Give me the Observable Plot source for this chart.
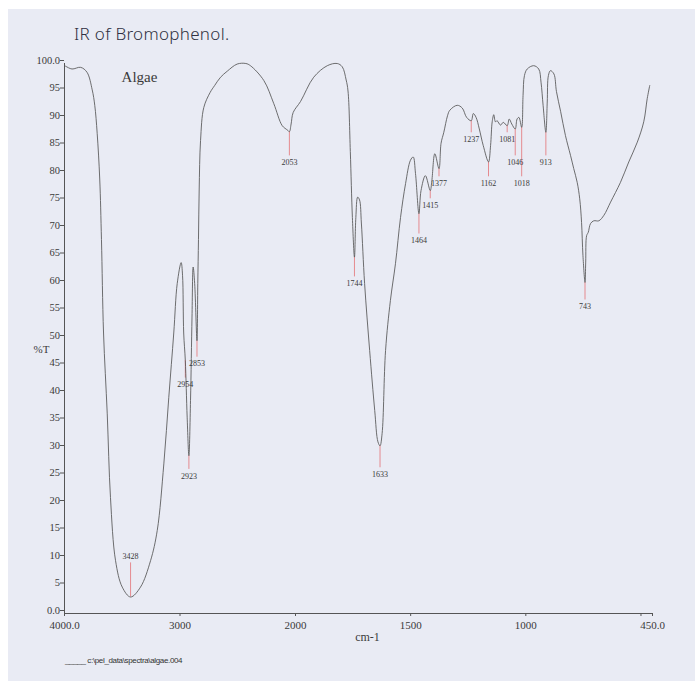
<!DOCTYPE html>
<html>
<head>
<meta charset="utf-8">
<script src="https://cdn.jsdelivr.net/npm/d3@7"></script>
<script src="https://cdn.jsdelivr.net/npm/@observablehq/plot@0.6"></script>
<style>
  html, body { margin: 0; padding: 0; background: #ffffff; }
  #page { position: relative; width: 695px; height: 681px; overflow: hidden; }
  #paper { position: absolute; left: 8px; top: 9px; right: 0; bottom: 0; background: #e9ebf4; }
  #chart { position: absolute; left: 0; top: 0; }
  #title { position: absolute; left: 74px; top: 22px; font-family: "Noto Sans", sans-serif; font-weight: 300; font-size: 17px; color: #2f3142; letter-spacing: 0.3px; }
  #footer { position: absolute; left: 65px; top: 656px; font-family: "Liberation Sans", sans-serif; font-size: 8px; color: #333; letter-spacing: -0.35px; white-space: pre; }
</style>
</head>
<body>
<div id="page">
  <div id="paper"></div>
  <div id="chart"></div>
  <div id="title">IR of Bromophenol.</div>
  <div id="footer">_____ c:\pel_data\spectra\algae.004</div>
</div>
<script>
// Spectrum: wavenumber (cm-1) and %T
const wavenumber = [4000, 3990, 3935, 3860, 3805, 3760, 3738, 3717, 3695, 3680, 3662, 3630, 3602, 3558, 3500, 3428, 3342, 3255, 3197, 3140, 3097, 3054, 3024, 2990, 2978, 2968, 2954, 2938, 2923, 2909, 2896, 2886, 2873, 2853, 2846, 2840, 2834, 2822, 2794, 2740, 2700, 2649, 2591, 2505, 2430, 2390, 2274, 2188, 2115, 2070, 2053, 2038, 2020, 1978, 1921, 1862, 1819, 1797, 1780, 1772, 1762, 1753, 1744, 1738, 1730, 1722, 1714, 1700, 1678, 1656, 1642, 1633, 1624, 1609, 1588, 1566, 1544, 1522, 1501, 1489, 1479, 1464, 1455, 1436, 1415, 1408, 1395, 1377, 1368, 1356, 1340, 1330, 1298, 1276, 1257, 1237, 1228, 1216, 1202, 1185, 1162, 1153, 1146, 1139, 1132, 1125, 1110, 1098, 1081, 1072, 1061, 1046, 1038, 1030, 1018, 1012, 1006, 994, 966, 944, 934, 925, 913, 907, 902, 893, 878, 867, 849, 828, 806, 792, 777, 766, 758, 752, 743, 740, 736, 729, 719, 705, 683, 661, 632, 589, 553, 516, 488, 473, 462];
const transmittance = [99.6, 99.5, 99.0, 99.3, 98.4, 95.2, 92.4, 87.3, 79, 68, 51, 36.3, 21.1, 9.6, 4.8, 3.0, 4.8, 9.6, 15.1, 27.2, 39.3, 51, 60, 63.8, 61.5, 51, 46, 35.7, 28.7, 38.7, 53.9, 63, 60, 49.6, 60, 68, 77, 86, 92, 94.7, 96, 97.5, 98.6, 99.9, 100, 99.6, 96.9, 92.7, 88.7, 87.9, 87.6, 89, 91.1, 93.1, 97.5, 99.6, 100, 99.4, 97, 95, 84, 72, 64.8, 72, 75.7, 75.2, 71, 60, 47.8, 36.9, 31.2, 30.5, 32.7, 47.8, 56.9, 63.6, 72, 78.2, 82.4, 83, 80, 72.7, 76.9, 79.6, 76.9, 78.7, 83.6, 80.9, 85.5, 87.5, 90.5, 91.5, 92.4, 91.9, 90.2, 89.6, 90.9, 90.2, 88.1, 85.1, 82.1, 85.1, 89.4, 90.7, 89.4, 89.6, 88.8, 89.3, 88.7, 89.9, 89, 88.1, 89.9, 90.2, 88.4, 94.2, 97.8, 99.0, 99.6, 99.0, 96.6, 92.4, 87.5, 93, 97.8, 98.7, 98.1, 94.9, 91.3, 86.9, 83.3, 80.9, 78.4, 75.4, 71.1, 65.1, 60.2, 63.9, 68.7, 69.3, 70.9, 71.4, 71.4, 72.4, 74.8, 78.4, 82.1, 85.7, 89.4, 93.6, 96];

// Labelled peaks
const peakWn = [3428, 2954, 2923, 2853, 2053, 1744, 1633, 1464, 1415, 1377, 1237, 1162, 1081, 1046, 1018, 913, 743];
const peakT  = [3.0, 46, 28.7, 49.6, 87.6, 64.8, 30.5, 72.7, 76.9, 80.9, 89.6, 82.1, 88.7, 88.1, 88.4, 87.5, 60.2];
const labelT = [10.4, 41.6, 25, 45.4, 82, 60, 25.3, 67.8, 74.2, 78.2, 86.2, 78.2, 86.2, 82, 78.2, 82, 55.8];

// Axis ticks
const xTicks = [4000, 3000, 2000, 1500, 1000, 500, 450];
const xTickLabels = ["4000.0", "3000", "2000", "1500", "1000", "", "450.0"];
const yTicks = [0, 5, 10, 15, 20, 25, 30, 35, 40, 45, 50, 55, 60, 65, 70, 75, 80, 85, 90, 95, 100];
const yTickLabels = ["0.0", "5", "10", "15", "20", "25", "30", "35", "40", "45", "50", "55", "60", "65", "70", "75", "80", "85", "90", "95", "100.0"];

const spectrum = wavenumber.map((w, i) => ({w, t: transmittance[i]}));
const peaks = peakWn.map((w, i) => ({
  w, t: peakT[i], lt: labelT[i],
  end: labelT[i] < peakT[i] ? labelT[i] + 1.2 : labelT[i] - 1.2
}));

const serif = "'Liberation Serif', 'Times New Roman', serif";
const ink = "#3a3a3a";

const chart = Plot.plot({
  width: 695,
  height: 681,
  marginTop: 63,
  marginBottom: 68,
  marginLeft: 64,
  marginRight: 43,
  style: {background: "transparent", fontFamily: serif, color: ink, overflow: "visible"},
  x: {type: "linear", domain: [4000, 2000, 450], range: [64, 295, 652]},
  y: {type: "linear", domain: [0, 100]},
  marks: [
    Plot.axisY({
      ticks: yTicks,
      tickFormat: d => yTickLabels[yTicks.indexOf(d)],
      tickSize: 4, tickPadding: 0.5, fontSize: 10.5, dy: -3,
      label: null, stroke: "#555"
    }),
    Plot.axisX({
      ticks: xTicks,
      tickFormat: d => xTickLabels[xTicks.indexOf(d)],
      tickSize: 3, tickPadding: 5, fontSize: 11,
      label: null, stroke: "#555"
    }),
    Plot.ruleY([0], {stroke: "#555", strokeWidth: 1}),
    Plot.ruleX([4000], {stroke: "#555", strokeWidth: 1}),
    Plot.ruleX(peaks, {x: "w", y1: "t", y2: "end", stroke: "#e58a8f", strokeWidth: 1}),
    Plot.line(spectrum, {x: "w", y: "t", stroke: "#555555", strokeWidth: 0.85, curve: "catmull-rom"}),
    Plot.text(peaks, {x: "w", y: "lt", text: d => String(d.w), fontSize: 8, fill: ink, fontFamily: serif}),
    Plot.text(["Algae"], {frameAnchor: "top-left", dx: 75, dy: 8, fontSize: 15, fill: ink, fontFamily: serif, textAnchor: "middle"}),
    Plot.text(["%T"], {frameAnchor: "left", dx: -31, dy: 11, fontSize: 11, fill: ink, fontFamily: serif}),
    Plot.text(["cm-1"], {frameAnchor: "bottom", dx: 9, dy: 27, fontSize: 12, fill: ink, fontFamily: serif})
  ]
});
document.getElementById("chart").appendChild(chart);
</script>
</body>
</html>
